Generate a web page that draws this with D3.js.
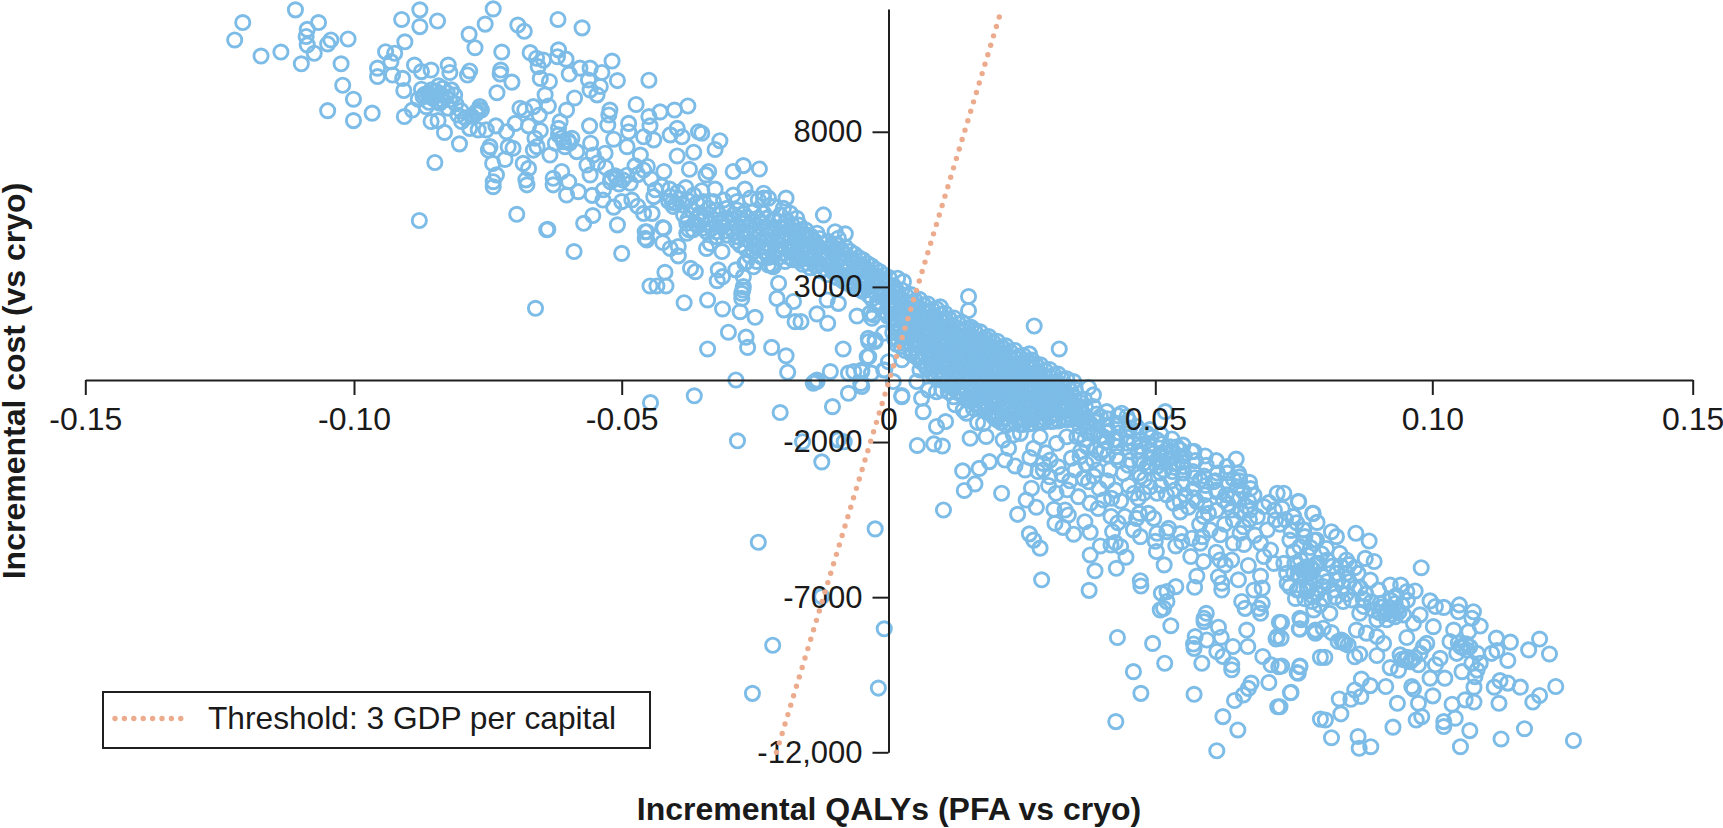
<!DOCTYPE html>
<html>
<head>
<meta charset="utf-8">
<title>Incremental cost-effectiveness plane</title>
<script src="https://cdn.jsdelivr.net/npm/d3@7/dist/d3.min.js"></script>
<style>
html,body{margin:0;padding:0;background:#fff;}
svg{display:block;}
text{font-family:"Liberation Sans",Arial,Helvetica,sans-serif;fill:#1a1a1a;}
</style>
</head>
<body>
<svg id="plane" width="1723" height="828"></svg>
<script>
// Tick values and labels of the two axes
const qalyTicks = [-0.15,-0.10,-0.05,0,0.05,0.10,0.15];
const qalyTickLabels = ["-0.15","-0.10","-0.05","0","0.05","0.10","0.15"];
const costTicks = [8000,3000,-2000,-7000,-12000];
const costTickLabels = ["8000","3000","-2000","-7000","-12,000"];

// Willingness-to-pay line through the origin
const thresholdQaly = [-0.0210,0.0212];
const thresholdCost = [-12000,11950];

// Simulation draws as [incremental QALYs, incremental cost], grouped by part of the plane
const drawsUpperLeft = [
[-.1207,11520],[-.1222,10960],[-.1173,10440],[-.1136,10570],[-.1109,11930],[-.1098,10190],[-.1087,11300],[-.1089,11070],[-.1087,10800],[-.1066,11520],[-.1074,10530],[-.1043,10960],[-.1049,10830],[-.1011,10990],[-.1024,10190],[-.1021,9500],[-.1049,8680],[-.1001,9050],[-.1001,8360],[-.0966,8600],
[-.0911,11620],[-.0877,11930],[-.0877,11390],[-.0844,11570],[-.0905,10900],[-.0941,10580],[-.0924,10530],[-.0931,10260],[-.0956,10050],[-.0956,9780],[-.0928,9830],[-.0909,9720],[-.0887,10150],[-.0907,9330],[-.0906,8490],[-.0891,8700],[-.0874,9940],[-.0856,9990],[-.0824,10150],[-.0821,9910],
[-.0874,9370],[-.0859,9190],[-.0834,9400],[-.0818,9350],[-.0871,9130],[-.0853,9080],[-.0837,9190],[-.0821,9030],[-.0865,8810],[-.0840,8920],[-.0824,8760],[-.0856,8330],[-.0843,8360],[-.0831,7980],[-.0803,7610],[-.0849,7010],[-.0878,5140],[-.0862,9250],[-.0846,9300],[-.0850,9140],[-.0828,9120],[-.0845,8990],[-.0835,9020],
[-.0880,9050],[-.0868,9210],[-.0855,9350],[-.0842,9480],[-.0826,9260],[-.0812,9180],[-.0860,8950],[-.0810,8900],[-.0800,8680],[-.0792,8450],
[-.0785,11140],[-.0755,11470],[-.0740,11960],[-.0774,10710],[-.0724,10570],[-.0784,9960],[-.0788,9830],[-.0726,9990],[-.0727,9860],[-.0705,9600],[-.0733,9260],[-.0694,11440],[-.0682,11240],[-.0619,11620],[-.0574,11350],[-.0671,10550],[-.0659,10370],[-.0646,10310],[-.0656,10100],[-.0652,9720],[-.0635,9620],[-.0643,9190],[-.0637,8830],
[-.0618,10640],[-.0620,10420],[-.0604,10340],[-.0598,9860],[-.0578,10050],[-.0559,10050],[-.0537,9910],[-.0518,10280],[-.0508,9650],[-.0562,9670],[-.0540,9460],[-.0559,9350],[-.0546,9190],[-.0449,9660],[-.0588,9090],[-.0603,8700],[-.0473,8880],[-.0522,8700],[-.0524,8540],[-.0428,8640],[-.0401,8700],[-.0376,8830],
[-.0690,8760],[-.0681,8700],[-.0665,8810],[-.0654,8540],[-.0699,8270],[-.0674,8190],[-.0765,8810],[-.0771,8650],[-.0762,8700],[-.0806,8540],[-.0799,8330],[-.0784,8110],[-.0768,8060],[-.0753,8060],[-.0735,8190],[-.0715,8000],[-.0746,7520],[-.0749,7410],[-.0703,7470],[-.0712,7520],[-.0662,7790],[-.0652,8040],[-.0615,8330],[-.0618,8110],[-.0593,7790],[-.0609,7680],[-.0624,7630],[-.0606,7520],[-.0584,7360],[-.0634,7250],[-.0658,7520],[-.0665,7410],
[-.0772,8580],[-.0780,8500],[-.0767,8720],[-.0612,7800],[-.0600,7720],[-.0618,7900],[-.0597,7640],
[-.0560,8190],[-.0526,8220],[-.0487,8270],[-.0487,8000],[-.0449,8490],[-.0447,8190],[-.0459,7840],[-.0440,7740],[-.0409,7900],[-.0396,8110],[-.0387,7840],[-.0558,7630],[-.0515,7760],[-.0490,7520],[-.0465,7250],[-.0396,7220],[-.0365,7340],[-.0356,8000],
[-.0741,6980],[-.0718,7110],[-.0684,6980],[-.0674,6820],[-.0734,6610],[-.0740,6390],[-.0740,6230],[-.0679,6450],[-.0677,6290],[-.0628,6500],[-.0628,6290],[-.0612,6720],[-.0599,6390],[-.0603,5960],[-.0581,6070],[-.0565,6930],[-.0559,6610],[-.0553,7250],[-.0531,7310],[-.0509,6500],[-.0521,6390],[-.0534,6130],[-.0484,6340],[-.0481,5800],[-.0515,5570],
[-.0452,6880],[-.0459,6770],[-.0421,6720],[-.0373,6790],[-.0437,6130],[-.0440,5910],[-.0409,5910],[-.0403,5590],[-.0377,5800],[-.0359,5700],[-.0459,5370],[-.0443,5370],[-.0696,5340],[-.0638,4860],[-.0640,4840],[-.0571,5050],[-.0554,5300],[-.0508,5000],[-.0456,4780],[-.0421,4890],[-.0374,4840],[-.0456,4570],
[-.0512,6580],[-.0498,6450],[-.0505,6320],[-.0520,6520],[-.0490,6600],[-.0412,5760],[-.0398,5690],[-.0385,5640],[-.0392,5840],[-.0405,5720],[-.0589,4140],[-.0661,2310],
[-.0545,7000],[-.0530,6850],[-.0475,6900],[-.0470,6620],[-.0445,6480],[-.0425,6250],[-.0410,6150],[-.0395,6050],[-.0380,6200],[-.0365,5960],[-.0350,6100],[-.0555,5950],[-.0535,5800],[-.0500,5750],[-.0470,5600]
];

const drawsDiagonalUpper = [
[-.0350,7950],[-.0316,7710],[-.0325,7430],[-.0337,6720],[-.0342,6610],[-.0291,6720],[-.0272,6910],[-.0242,6800],[-.0325,6150],[-.0269,6150],[-.0291,5960],[-.0234,6020],[-.0225,5860],[-.0234,5860],[-.0192,5860],[-.0122,5320],[-.0203,5320],[-.0184,5370],[-.0172,5210],[-.0153,4670],[-.0134,4730],[-.0100,4780],[-.0081,4710],[-.0094,4570],[-.0140,4460],
[-.0309,5800],[-.0284,5750],[-.0259,5860],[-.0244,5800],[-.0328,5750],[-.0347,5750],[-.0215,5590],[-.0197,5530],[-.0165,4840],
[-.0384,5320],[-.0369,5480],[-.0353,5370],[-.0337,5530],[-.0322,5480],[-.0303,5530],[-.0284,5480],[-.0378,5050],[-.0359,5210],[-.0344,5210],[-.0325,5160],[-.0306,5210],[-.0291,5180],[-.0272,5370],[-.0253,5430],[-.0234,5370],[-.0216,5160],
[-.0366,4840],[-.0347,4890],[-.0331,4890],[-.0312,4940],[-.0294,4890],[-.0275,5050],[-.0256,5100],[-.0237,5050],[-.0219,4890],[-.0200,4940],[-.0181,5000],
[-.0322,4620],[-.0303,4670],[-.0284,4620],[-.0266,4780],[-.0247,4780],[-.0228,4670],[-.0209,4620],[-.0191,4730],[-.0172,4730],
[-.0278,4350],[-.0259,4460],[-.0241,4460],[-.0222,4350],[-.0203,4350],[-.0184,4460],[-.0166,4460],
[-.0253,4140],[-.0234,4140],[-.0216,4030],[-.0197,4080],[-.0178,4190],[-.0159,4190],
[-.0266,3820],[-.0247,3820],[-.0225,3710],[-.0216,3650],[-.0194,3820],[-.0172,3920],[-.0153,3920],
[-.0376,5180],[-.0361,5030],[-.0350,5120],[-.0335,5050],[-.0318,5330],[-.0300,5060],[-.0316,5100],[-.0290,5330],[-.0280,5220],[-.0265,5240],[-.0245,5210],[-.0228,5210],[-.0206,5100],[-.0190,5130],[-.0357,4960],[-.0340,4760],[-.0323,4780],[-.0305,4800],[-.0290,4760],[-.0272,4700],[-.0258,4960],[-.0245,4620],[-.0228,4900],[-.0212,4770],[-.0196,4560],[-.0183,4860],[-.0167,4990],[-.0155,4830],[-.0285,4480],[-.0268,4550],[-.0252,4550],[-.0235,4540],[-.0218,4510],[-.0200,4520],[-.0186,4280],[-.0268,4240],[-.0250,4310],[-.0232,4280],[-.0212,4200],[-.0195,4250],[-.0260,4000],[-.0240,3980],[-.0225,3950],[-.0207,3930],[-.0188,3970],
// tightest part of the cloud, just left of the vertical axis
[-.0178,4800],[-.0175,4560],[-.0180,4290],[-.0176,4040],[-.0179,3880],
[-.0162,4720],[-.0165,4470],[-.0160,4200],[-.0164,3950],[-.0161,3730],
[-.0146,4650],[-.0143,4380],[-.0148,4130],[-.0145,3870],[-.0147,3620],
[-.0129,4560],[-.0132,4310],[-.0127,4030],[-.0130,3780],[-.0128,3520],
[-.0113,4470],[-.0111,4220],[-.0115,3950],[-.0112,3690],[-.0114,3400],
[-.0097,4380],[-.0100,4130],[-.0095,3870],[-.0098,3590],[-.0096,3300],
[-.0081,4290],[-.0079,4020],[-.0083,3780],[-.0080,3510],[-.0082,3260],[-.0079,3130],
[-.0064,4060],[-.0066,3810],[-.0062,3560],[-.0065,3300],[-.0063,3060],[-.0066,2980],
[-.0048,3870],[-.0046,3620],[-.0050,3360],[-.0047,3110],[-.0049,2860],
[-.0032,3680],[-.0034,3430],[-.0030,3170],[-.0033,2900],[-.0031,2610],
[-.0016,3490],[-.0014,3230],[-.0018,2980],[-.0015,2700],[-.0017,2390],
[.0001,3300],[-.0001,3050],[.0003,2790],[0,2530],[.0002,2280],[-.0002,2060],
[-.0170,4650],[-.0168,4400],[-.0171,4120],[-.0169,3850],
[-.0154,4570],[-.0152,4300],[-.0155,4040],[-.0153,3760],
[-.0138,4480],[-.0136,4220],[-.0139,3950],[-.0137,3680],
[-.0121,4390],[-.0119,4120],[-.0122,3860],[-.0120,3580],
[-.0105,4300],[-.0103,4040],[-.0106,3780],[-.0104,3480],
[-.0089,4210],[-.0087,3950],[-.0090,3660],[-.0088,3400],[-.0086,3200],
[-.0072,4150],[-.0070,3890],[-.0073,3630],[-.0071,3390],[-.0069,3100],
[-.0056,3950],[-.0054,3690],[-.0057,3430],[-.0055,3180],[-.0053,2920],
[-.0040,3760],[-.0038,3490],[-.0041,3240],[-.0039,2980],[-.0037,2730],
[-.0024,3570],[-.0022,3310],[-.0025,3060],[-.0023,2790],[-.0021,2500],
[-.0008,3380],[-.0006,3130],[-.0009,2880],[-.0007,2620],[-.0005,2200]
];

const drawsLeftOfAxis = [
[-.0500,4080],[-.0453,4780],[-.0453,4510],[-.0423,4910],[-.0423,4430],[-.0409,4240],[-.0394,4300],[-.0394,4000],[-.0434,3030],[-.0417,3030],[-.0419,3470],[-.0371,3600],[-.0362,3490],[-.0383,2490],[-.0447,3030],[-.0378,4730],
[-.0341,4240],[-.0334,4400],[-.0312,4140],[-.0319,3550],[-.0311,3330],[-.0321,3200],[-.0339,2580],[-.0311,2290],[-.0286,3550],[-.0272,3330],[-.0269,3760],[-.0253,3650],[-.0272,3010],[-.0275,2790],[-.0273,2900],[-.0275,2630],[-.0278,2200],[-.0250,2020],[-.0300,1540],[-.0267,1380],[-.0264,1050],[-.0339,1000],[-.0219,1050],[-.0192,780],[-.0189,250],[-.0286,0],
[-.0206,3120],[-.0209,2630],[-.0196,2260],[-.0178,2530],[-.0175,1880],[-.0164,1880],[-.0134,2130],[-.0114,1830],[-.0115,2580],[-.0094,2470],[-.0085,1000],[-.0059,2060],[-.0034,2150],[-.0031,1990],[-.0037,750],[-.0037,1240],[-.0025,1290],[-.0009,1510],[-.0065,270],[-.0075,220],[-.0109,270],[-.0050,320],[-.0009,320],[-.0134,0],[-.0141,-100],[-.0219,3710],
[-.0446,-730],[-.0364,-510],[-.0203,-1050],[-.0283,-1960],[-.0161,-1990],[-.0094,-1930],[-.0083,-1990],[-.0125,-2640],[-.0105,-860],[-.0075,-430],[-.0052,-110],[-.0134,-50],[-.0138,-50],[-.0025,-4800],[-.0244,-5230],[-.0125,-6980],[-.0008,-8020],[-.0217,-8550],[-.0019,-9930],[-.0255,-10100],
[-.0035,2150],[-.0028,2100],[-.0038,1340],[-.0025,1240],[-.0040,750],[-.0032,220],[-.0007,320],[0,590],[-.0050,270],[-.0050,-210]
];

const drawsAroundOrigin = [
[.0017,3280],[.0028,3170],[.0097,2360],[.0150,2690],[.0150,2240],[.0161,1610],[.0187,1290],[.0215,1020],[.0273,1740],[.0320,1000],[.0264,840],[.0267,520],[.0347,-50],[.0375,-240],[.0384,-480],[.0409,-1020],[.0437,-1070],[.0447,-1180],[.0518,-1020],
[.0025,650],[.0009,-50],[.0025,-540],[.0025,-505],[.0059,320],[.0053,-50],[.0062,-590],[.0065,-1020],[.0075,-320],[.0090,-380],[.0090,-1500],[.0107,-1340],[.0085,-2060],[.0101,-2130],[.0054,-2110],[.0153,-1880],[.0183,-1820],[.0167,-1370],[.0112,-380],[.0125,-800],[.0146,-1070],[.0165,-640],
[.0139,-2930],[.0170,-2850],[.0189,-2630],[.0162,-3350],[.0142,-3560],[.0103,-4190],
[.0100,-320],[.0134,-430],[.0147,-640],[.0122,-540],[.0159,-910],[.0178,-1400],[.0197,-1180],[.0140,-970],[.0197,-750],[.0184,-430],
// solid core of the cloud to the right of the vertical axis
[.0009,3040],[.0012,2790],[.0007,2540],[.0010,2270],[.0006,2020],[.0011,1770],[.0008,1530],[.0012,1310],
[.0025,2900],[.0022,2640],[.0027,2380],[.0024,2110],[.0028,1860],[.0023,1600],[.0026,1330],[.0024,1080],
[.0042,2750],[.0044,2500],[.0040,2230],[.0043,1970],[.0039,1710],[.0045,1450],[.0041,1190],[.0043,840],
[.0058,2600],[.0056,2340],[.0060,2080],[.0057,1830],[.0061,1570],[.0055,1310],[.0059,1060],[.0056,800],[.0060,600],
[.0074,2450],[.0076,2190],[.0072,1940],[.0075,1680],[.0071,1420],[.0077,1170],[.0073,910],[.0076,650],[.0072,370],
[.0090,2300],[.0088,2040],[.0092,1790],[.0089,1530],[.0093,1280],[.0087,1020],[.0091,760],[.0089,500],[.0092,250],[.0088,130],
[.0106,2150],[.0108,1900],[.0104,1640],[.0107,1380],[.0103,1130],[.0109,870],[.0105,610],[.0108,360],[.0104,110],[.0107,-80],
[.0123,2000],[.0121,1750],[.0125,1490],[.0122,1240],[.0126,980],[.0120,720],[.0124,470],[.0121,210],[.0125,-40],[.0122,-270],
[.0139,1850],[.0141,1590],[.0137,1340],[.0140,1080],[.0136,830],[.0142,570],[.0138,320],[.0141,60],[.0137,-190],[.0140,-470],
[.0155,1700],[.0153,1440],[.0157,1190],[.0154,930],[.0158,670],[.0152,420],[.0156,160],[.0153,-90],[.0157,-350],[.0154,-660],
[.0172,1550],[.0174,1290],[.0170,1030],[.0173,780],[.0169,520],[.0175,270],[.0171,10],[.0174,-250],[.0170,-510],[.0173,-870],
[.0188,1400],[.0186,1140],[.0190,880],[.0187,630],[.0191,370],[.0185,110],[.0189,-140],[.0186,-400],[.0190,-660],[.0187,-920],[.0190,-1060],
[.0204,1250],[.0206,990],[.0202,730],[.0205,480],[.0201,220],[.0207,-40],[.0203,-290],[.0206,-550],[.0202,-810],[.0205,-1070],[.0203,-1270],
[.0220,1100],[.0218,840],[.0222,580],[.0219,330],[.0223,70],[.0217,-190],[.0221,-440],[.0218,-700],[.0222,-960],[.0219,-1220],[.0221,-1460],
[.0237,950],[.0239,690],[.0235,430],[.0238,170],[.0234,-80],[.0240,-340],[.0236,-600],[.0239,-860],[.0235,-1110],[.0238,-1370],
[.0253,790],[.0251,530],[.0255,270],[.0252,20],[.0256,-240],[.0250,-500],[.0254,-760],[.0251,-1010],[.0255,-1270],[.0252,-1430],
[.0269,640],[.0271,380],[.0267,120],[.0270,-130],[.0266,-390],[.0272,-650],[.0268,-910],[.0271,-1160],[.0267,-1400],
[.0285,490],[.0283,230],[.0287,-30],[.0284,-290],[.0288,-550],[.0282,-800],[.0286,-1060],[.0283,-1320],
[.0302,340],[.0304,80],[.0300,-180],[.0303,-440],[.0299,-700],[.0305,-960],[.0301,-1210],[.0304,-1340],
[.0318,190],[.0316,-70],[.0320,-330],[.0317,-590],[.0321,-850],[.0315,-1110],[.0319,-1320],
[.0334,40],[.0336,-220],[.0332,-480],[.0335,-740],[.0331,-1000],[.0337,-1270],
[.0350,-300],[.0348,-560],[.0352,-820],[.0349,-1080],[.0353,-1250],
[.0367,-620],[.0369,-880],[.0365,-1100],[.0368,-1220],
[.0017,2850],[.0019,2600],[.0015,2330],[.0018,2080],[.0016,1830],[.0020,1570],[.0017,1310],[.0015,1150],
[.0033,2720],[.0035,2460],[.0031,2210],[.0034,1950],[.0032,1690],[.0036,1430],[.0033,1170],[.0031,950],
[.0050,2560],[.0048,2300],[.0052,2050],[.0049,1790],[.0051,1530],[.0047,1280],[.0050,1020],[.0052,740],
[.0066,2420],[.0068,2160],[.0064,1900],[.0067,1640],[.0065,1390],[.0069,1130],[.0066,870],[.0064,610],[.0068,480],
[.0082,2270],[.0080,2010],[.0084,1760],[.0081,1500],[.0083,1240],[.0079,990],[.0082,730],[.0084,470],[.0080,240],
[.0098,2120],[.0100,1860],[.0096,1610],[.0099,1350],[.0097,1100],[.0101,840],[.0098,580],[.0096,330],[.0100,100],[.0098,0],
[.0114,1970],[.0112,1720],[.0116,1460],[.0113,1200],[.0115,950],[.0111,690],[.0114,440],[.0116,180],[.0112,-70],[.0115,-200],
[.0131,1820],[.0133,1560],[.0129,1310],[.0132,1050],[.0130,800],[.0134,540],[.0131,290],[.0129,30],[.0133,-220],[.0130,-400],
[.0147,1670],[.0145,1410],[.0149,1160],[.0146,900],[.0148,650],[.0144,390],[.0147,130],[.0149,-120],[.0145,-380],[.0148,-580],
[.0163,1520],[.0165,1260],[.0161,1010],[.0164,750],[.0162,490],[.0166,240],[.0163,-20],[.0161,-280],[.0165,-540],[.0162,-770],
[.0180,1370],[.0178,1110],[.0182,860],[.0179,600],[.0181,340],[.0177,90],[.0180,-170],[.0182,-430],[.0178,-690],[.0181,-950],
[.0196,1220],[.0198,970],[.0194,710],[.0197,450],[.0195,200],[.0199,-60],[.0196,-320],[.0194,-580],[.0198,-830],[.0195,-1090],[.0197,-1180],
[.0212,1070],[.0210,810],[.0214,560],[.0211,300],[.0213,40],[.0209,-210],[.0212,-470],[.0214,-730],[.0210,-990],[.0213,-1240],[.0211,-1370],
[.0228,920],[.0230,660],[.0226,410],[.0229,150],[.0227,-110],[.0231,-370],[.0228,-620],[.0226,-880],[.0230,-1140],[.0227,-1400],
[.0245,770],[.0243,510],[.0247,260],[.0244,0],[.0246,-260],[.0242,-520],[.0245,-780],[.0247,-1030],[.0243,-1290],[.0246,-1430],
[.0261,620],[.0263,360],[.0259,100],[.0262,-150],[.0260,-410],[.0264,-670],[.0261,-930],[.0259,-1190],[.0263,-1420],
[.0277,470],[.0275,210],[.0279,-50],[.0276,-310],[.0278,-570],[.0274,-820],[.0277,-1080],[.0279,-1340],
[.0293,320],[.0295,60],[.0291,-200],[.0294,-460],[.0292,-720],[.0296,-980],[.0293,-1230],[.0291,-1350],
[.0310,170],[.0308,-90],[.0312,-350],[.0309,-610],[.0311,-870],[.0307,-1120],[.0310,-1330],
[.0326,20],[.0328,-240],[.0324,-500],[.0327,-760],[.0325,-1010],[.0329,-1270],
[.0342,-350],[.0340,-610],[.0344,-860],[.0341,-1120],[.0343,-1260],
[.0358,-700],[.0360,-940],[.0356,-1180],[.0359,-1240],
// thinning tail past the core
[.0359,-860],[.0384,-860],[.0397,-1180],[.0378,-1400],[.0359,-1500],[.0409,-1500],[.0428,-1400],[.0447,-1610],[.0465,-1500],[.0484,-1720],[.0503,-1930],[.0527,-2150],[.0545,-2250],[.0397,-1820],[.0422,-1930],[.0447,-2040],[.0472,-2150],[.0497,-2360],[.0521,-2580],[.0540,-2680],[.0384,-1720],[.0353,-1820],[.0372,-2150],[.0403,-2250],[.0428,-2470],[.0453,-2580],[.0478,-2680],[.0359,-2470],[.0384,-2580],[.0503,-2790],
[.0370,-1380],[.0372,-1650],[.0368,-1920],
[.0390,-1100],[.0388,-1350],[.0392,-1620],[.0389,-2250],
[.0410,-1250],[.0412,-1650],[.0408,-2000],[.0411,-2420],
[.0430,-1150],[.0432,-1700],[.0428,-2150],[.0431,-2600],
[.0450,-1300],[.0452,-1550],[.0448,-1850],[.0451,-2300],[.0449,-2750],
[.0470,-1650],[.0472,-1950],[.0468,-2300],[.0471,-2600],[.0469,-3000],
[.0490,-1600],[.0492,-1850],[.0488,-2100],[.0491,-2500],[.0489,-2800],
[.0510,-1750],[.0512,-2050],[.0508,-2400],[.0511,-2650],[.0509,-3000],
[.0530,-1900],[.0532,-2300],[.0528,-2500],[.0531,-2950],[.0529,-3250],
[.0550,-2100],[.0552,-2450],[.0548,-2650],[.0551,-3000],[.0549,-3350],
[.0570,-2300],[.0572,-2600],[.0568,-2950],[.0571,-3150],[.0569,-3500],
[.0590,-2450],[.0592,-2750],[.0588,-3100],[.0591,-3400],[.0589,-3700],
[.0610,-2600],[.0612,-3000],[.0608,-3250],[.0611,-3550],
[.0630,-3000],[.0632,-3350],[.0628,-3700],[.0631,-4000],
[.0650,-3000],[.0652,-3250],[.0648,-3450],[.0651,-3850],
[.0670,-3300],[.0672,-3500],[.0668,-3900],[.0671,-4200]
];

const drawsLowerMiddle = [
[.0212,-3650],[.0242,-4330],[.0258,-3870],[.0268,-3490],[.0277,-4100],[.0256,-2900],[.0237,-2770],[.0218,-2580],[.0225,-2200],[.0234,-1770],[.0264,-4960],[.0272,-5160],[.0284,-5420],[.0287,-6440],[.0310,-4170],[.0312,-4620],[.0327,-4750],[.0337,-4350],[.0347,-4970],[.0331,-4190],[.0368,-4570],[.0378,-4910],[.0314,-3650],[.0335,-3540],[.0302,-3120],[.0290,-2690],[.0303,-2580],[.0272,-2200],[.0343,-2520],[.0359,-1770],[.0365,-3170],[.0375,-3280],[.0356,-3760],[.0378,-3970],[.0393,-4140],[.0403,-3870],[.0418,-3810],[.0417,-4400],[.0420,-4890],[.0397,-5350],[.0378,-5640],[.0387,-6150],[.0376,-6780],
[.0417,-5320],[.0425,-5240],[.0435,-5370],[.0445,-5710],[.0427,-6070],[.0429,-8300],[.0459,-9400],[.0473,-10100],[.0426,-11010],[.0495,-8490],[.0517,-9130],[.0472,-6470],[.0473,-6640],[.0516,-5960],[.0502,-5530],[.0472,-5050],[.0459,-4830],[.0443,-4400],[.0465,-4460],[.0487,-4300],[.0497,-4460],[.0503,-4940],[.0521,-4890],[.0524,-4780],
[.0537,-5350],[.0564,-5690],[.0587,-5850],[.0575,-6320],[.0571,-6680],[.0537,-6660],[.0521,-6820],[.0511,-6870],[.0521,-7140],[.0515,-7360],[.0509,-7410],[.0528,-7920],[.0570,-10130],[.0622,-10850],[.0649,-11280],[.0611,-11950],[.0643,-10330],[.0659,-10150],[.0668,-9940],[.0673,-9770],[.0705,-9750],[.0745,-10070],[.0721,-10530],[.0798,-10930],
[.0592,-7520],[.0588,-7680],[.0588,-7790],[.0614,-7970],[.0619,-8290],[.0593,-8380],[.0572,-8270],[.0569,-8510],[.0570,-8650],[.0611,-8750],[.0622,-8910],[.0640,-8590],[.0638,-9180],[.0638,-9340],[.0584,-9130],[.0667,-8590],[.0665,-8060],[.0694,-8910],[.0709,-9180],[.0723,-9240],[.0761,-9240],[.0758,-9450],[.0724,-7810],[.0720,-8270],[.0718,-8350],[.0763,-7730],[.0761,-8030],[.0789,-8060],[.0798,-8940],[.0789,-8160],
[.0620,-6770],[.0620,-6550],[.0614,-6340],[.0626,-5960],[.0617,-5800],[.0638,-5800],[.0650,-6440],[.0668,-5980],[.0690,-6320],[.0678,-6770],[.0693,-6710],[.0656,-7140],[.0662,-7360],[.0693,-7200],[.0690,-7520],[.0687,-7360],[.0566,-5100],[.0548,-5210],[.0581,-5260],[.0617,-4990],[.0641,-5260],[.0653,-4940],[.0599,-4830],
[.0566,-2310],[.0539,-2150],[.0629,-2790],[.0646,-2550],[.0652,-3120],[.0641,-3200],[.0659,-3600],[.0678,-3710],[.0720,-3650],[.0732,-3650],[.0759,-3920],[.0729,-4140],[.0785,-4300],[.0750,-4400],[.0768,-4830],[.0786,-5160],[.0717,-4510],[.0702,-4830],[.0684,-4400],[.0696,-4080],[.0665,-4080],[.0638,-4190],[.0587,-4400],[.0596,-4300],[.0575,-3920],[.0545,-3920],[.0533,-3970],[.0554,-3710],[.0581,-3220],[.0605,-3280],[.0611,-3600],[.0623,-3870],[.0641,-4510],[.0659,-4730],[.0690,-5260],[.0708,-5480],[.0696,-5690],[.0714,-5910],[.0732,-5910],[.0750,-5530],[.0762,-5800],[.0780,-6020],[.0795,-5910],[.0750,-6230],[.0738,-6550],[.0756,-6770],[.0774,-6660],[.0792,-6870],[.0753,-7040],[.0783,-7140],[.0786,-7410],
[.0521,-2360],[.0503,-2580],[.0484,-2790],[.0472,-3120],[.0478,-3650],[.0468,-3810],[.0503,-3650],[.0515,-2900],[.0533,-2690],[.0551,-2790],[.0490,-2260],[.0459,-2040],[.0428,-1930],[.0397,-2360],[.0415,-2900],[.0440,-3010],[.0390,-2900],[.0403,-1830],[.0334,-1830],[.0315,-2040],[.0284,-1830],[.0247,-1720],[.0215,-1930],[.0290,-2900],
[.0265,-2500],[.0280,-2950],[.0295,-2350],[.0300,-3400],[.0318,-2800],[.0325,-3050],[.0340,-3250],[.0350,-2900],[.0360,-2300],[.0370,-2700],[.0385,-3100],[.0395,-3500],[.0410,-3250],[.0425,-3550],[.0435,-3900],[.0450,-3400],[.0460,-3650],[.0480,-3200],[.0490,-3450],[.0510,-3400],[.0520,-3700],[.0535,-3550],[.0545,-4250],[.0560,-4100],[.0570,-3800],[.0580,-4650],[.0590,-4050],[.0610,-4200],[.0625,-4650],[.0640,-3800],[.0655,-4250],[.0670,-4500],[.0680,-5000],[.0660,-5300],[.0610,-5550],[.0585,-5050],[.0545,-4950],[.0500,-5200],[.0470,-4300],[.0430,-4600]
];

const drawsLowerRight = [
[.0758,-3920],[.0784,-4300],[.0792,-4590],[.0818,-4890],[.0827,-5050],[.0862,-4940],[.0886,-5190],[.0749,-4400],[.0767,-4830],[.0743,-5160],[.0761,-5370],[.0791,-5160],[.0809,-5430],[.0833,-5590],[.0845,-5800],[.0879,-5750],[.0895,-5850],[.0980,-6050],[.0752,-5910],[.0773,-6020],[.0791,-5910],[.0737,-6230],[.0761,-6340],[.0779,-6230],[.0803,-6340],[.0827,-6230],[.0845,-6230],[.0866,-6230],[.0888,-6450],
[.0743,-6660],[.0761,-6770],[.0785,-6980],[.0803,-6660],[.0821,-6770],[.0839,-6660],[.0860,-6710],[.0854,-7090],[.0903,-6770],[.0924,-6610],[.0943,-6610],[.0954,-6820],[.0969,-6800],[.0906,-7200],[.0894,-7410],[.0918,-7410],[.0933,-7200],[.0945,-7250],[.0900,-7730],[.0918,-7730],[.0933,-7630],[.0948,-7570],[.0869,-7520],[.0876,-7300],[.0839,-7140],[.0797,-7250],[.0815,-7520],[.0761,-7680],[.0760,-8020],[.0788,-8110],[.0803,-8000],[.0818,-8140],[.0728,-7820],[.0727,-8320],
[.0839,-8430],[.0848,-8540],[.0830,-8430],[.0860,-8920],[.0869,-8830],[.0900,-8880],[.0806,-8940],[.0863,-8060],[.0881,-8160],[.0900,-8270],[.0912,-8490],[.0954,-8300],[.0966,-7840],[.0978,-7570],[.0996,-7120],[.1006,-7300],[.1022,-7330],[.1002,-7950],[.0984,-8590],[.0978,-8810],[.0990,-8490],[.0942,-8860],[.0951,-9020],[.0963,-9020],[.0975,-9180],[.0924,-9270],[.0939,-9350],[.0996,-9610],[.1006,-9180],[.1015,-8970],[.1024,-9610],
[.1034,-8430],[.1041,-8060],[.1052,-7250],[.1050,-7470],[.1079,-7470],[.1076,-7680],[.1092,-7930],[.1070,-8110],[.1054,-8590],[.1047,-8810],[.1066,-8700],[.1086,-8810],[.1092,-9130],[.1076,-9130],[.1086,-9350],[.1057,-9400],[.1082,-9560],[.1080,-9900],[.1123,-8320],[.1150,-8450],[.1124,-8720],[.1114,-8810],[.1145,-9040],[.1185,-8700],[.1206,-8350],[.1225,-8830],[.1237,-9880],[.1206,-10170],[.1193,-10380],[.1169,-9900],[.1145,-9770],[.1130,-9690],[.1119,-9900],[.1128,-10420],[.1177,-11240],[.1132,-11570],[.1271,-11620],[.1054,-11820],[.1072,-11300],[.1044,-10900],[.1022,-11010],[.1022,-11170],[.1038,-10450],[.1063,-10310],[.1080,-10380],[.1001,-10180],[.0975,-10420],[.0966,-9960],[.0963,-9880],[.0981,-10850],[.0971,-10960],[.0937,-10420],[.0929,-11190],[.0916,-9880],[.0888,-9850],[.0872,-9640],[.0860,-9990],[.0871,-10200],[.0853,-10290],[.0832,-10280],[.0835,-10760],[.0807,-10960],[.0818,-11530],[.0866,-11490],[.0868,-11870],[.0889,-11820],[.0761,-9220],[.0756,-9430],[.0744,-10080],[.0728,-9220],[.0725,-10530],
[.0765,-6120],[.0775,-6180],[.0770,-6300],[.0758,-6250],[.0780,-6350],[.0785,-6120],[.0925,-7350],[.0935,-7420],[.0915,-7530],[.0908,-7320],[.0940,-7480],[.0927,-7560],[.1058,-8620],[.1065,-8500],[.1050,-8480],[.1072,-8600],[.0955,-8940],[.0945,-9000],[.0968,-8950],[.0960,-9080],[.0836,-8380],[.0842,-8490],
[.0705,-3950],[.0715,-4200],[.0725,-4650],[.0735,-4500],[.0745,-4850],[.0755,-4600],[.0770,-5050],[.0780,-5400],[.0775,-5650],[.0800,-5600],[.0810,-5800],[.0820,-6000],[.0835,-6000],[.0850,-5950],[.0860,-6050],[.0790,-6500],[.0810,-6500],[.0830,-6450],[.0850,-6500],[.0870,-6700],[.0880,-6900],[.0845,-6900],[.0825,-7000],[.0805,-7050],[.0790,-6850],[.0775,-6800],[.0770,-7050],[.0890,-7150],[.0875,-7050],[.0905,-7500],[.0925,-7100],[.0935,-6950],[.0955,-7100]
];

const allDraws = [...drawsUpperLeft,...drawsDiagonalUpper,...drawsLeftOfAxis,...drawsAroundOrigin,...drawsLowerMiddle,...drawsLowerRight];

const svg = d3.select("#plane");
const ink = "#1f1f1f";
const ringColour = "#7cbce7";
const thresholdColour = "#ecab8c";

// The printed horizontal axis is slightly uneven, so each tick keeps its own stop
const x = d3.scaleLinear().domain(qalyTicks).range([85.3,354,621.7,888.5,1155.3,1432.3,1692.7]);
const y = d3.scaleLinear().domain([-12000,11957]).range([752.3,9]);

svg.append("g").selectAll("circle").data(allDraws).join("circle")
  .attr("cx",d=>x(d[0])).attr("cy",d=>y(d[1])).attr("r",7.1)
  .attr("fill","none").attr("stroke",ringColour).attr("stroke-width",2.9);

const axisX = d3.axisBottom(x).tickValues(qalyTicks)
  .tickFormat((d,i)=>qalyTickLabels[i]).tickSizeInner(15).tickSizeOuter(0).tickPadding(12);
const axisY = d3.axisLeft(y).tickValues(costTicks)
  .tickFormat((d,i)=>costTickLabels[i]).tickSizeInner(16).tickSizeOuter(0).tickPadding(10);

const gx = svg.append("g").attr("transform",`translate(0,${y(0)})`).call(axisX);
const gy = svg.append("g").attr("transform",`translate(${x(0)},0)`).call(axisY);
[gx,gy].forEach((g,i)=>{
  g.selectAll("path,line").attr("stroke",ink).attr("stroke-width",2);
  g.selectAll("text").attr("font-size",i===0?32:31).attr("fill","#1a1a1a")
    .style("font-family",'"Liberation Sans",Arial,sans-serif');
});

// Threshold line, dotted with round caps
svg.append("path")
  .datum(thresholdQaly.map((q,i)=>[q,thresholdCost[i]]))
  .attr("d",d3.line().x(d=>x(d[0])).y(d=>y(d[1])))
  .attr("fill","none").attr("stroke",thresholdColour).attr("stroke-width",5.4)
  .attr("stroke-linecap","round").attr("stroke-dasharray","0 9.85");

// Legend
const legend = svg.append("g");
legend.append("rect").attr("x",103).attr("y",692).attr("width",547).attr("height",56)
  .attr("fill","#fff").attr("stroke",ink).attr("stroke-width",2);
legend.append("line").attr("x1",115).attr("x2",190).attr("y1",718.5).attr("y2",718.5)
  .attr("stroke",thresholdColour).attr("stroke-width",5.4)
  .attr("stroke-linecap","round").attr("stroke-dasharray","0 9.4");
legend.append("text").attr("x",208).attr("y",729).attr("font-size",31.7)
  .text("Threshold: 3 GDP per capital");

// Axis titles
svg.append("text").attr("x",889).attr("y",820).attr("text-anchor","middle")
  .attr("font-size",32).attr("font-weight","bold")
  .text("Incremental QALYs (PFA vs cryo)");
svg.append("text").attr("transform","translate(25,381) rotate(-90)").attr("text-anchor","middle")
  .attr("font-size",32).attr("font-weight","bold")
  .text("Incremental cost (vs cryo)");
</script>
</body>
</html>
